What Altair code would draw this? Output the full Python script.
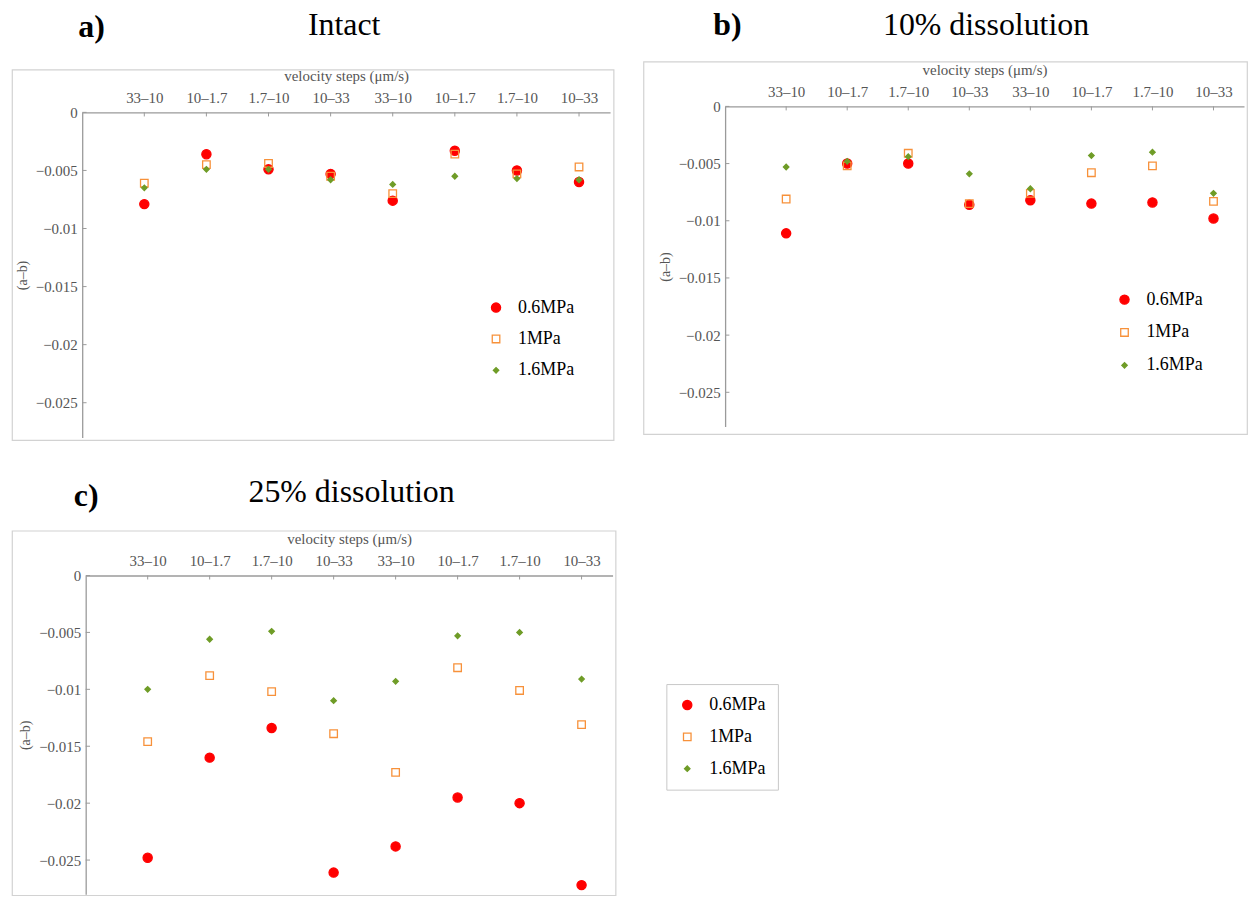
import altair as alt
import pandas as pd

# ---------------- data ----------------
categories = ["33–10", "10–1.7", "1.7–10", "10–33", "33–10", "10–1.7", "1.7–10", "10–33"]
pressures = ["0.6MPa", "1MPa", "1.6MPa"]

intact_06 = [-0.0079, -0.0036, -0.0049, -0.0053, -0.0076, -0.0033, -0.0050, -0.0060]
intact_10 = [-0.0061, -0.0045, -0.0044, -0.0055, -0.0070, -0.0036, -0.0053, -0.0047]
intact_16 = [-0.0065, -0.0049, -0.0049, -0.0058, -0.0062, -0.0055, -0.0057, -0.0058]

d10_06 = [-0.0111, -0.0050, -0.0050, -0.0086, -0.0082, -0.0085, -0.0084, -0.0098]
d10_10 = [-0.0081, -0.0052, -0.0041, -0.0085, -0.0076, -0.0058, -0.0052, -0.0083]
d10_16 = [-0.0053, -0.0048, -0.0044, -0.0059, -0.0072, -0.0043, -0.0040, -0.0076]

d25_06 = [-0.0248, -0.0160, -0.0134, -0.0261, -0.0238, -0.0195, -0.0200, -0.0272]
d25_10 = [-0.0146, -0.0088, -0.0102, -0.0139, -0.0173, -0.0081, -0.0101, -0.0131]
d25_16 = [-0.0100, -0.0056, -0.0049, -0.0110, -0.0093, -0.0053, -0.0050, -0.0091]

y_ticks = [0, -0.005, -0.01, -0.015, -0.02, -0.025]
x_positions = [1, 2, 3, 4, 5, 6, 7, 8]

# ---------------- style ----------------
SERIF = "Liberation Serif"
AXIS_COLOR = "#9a9a9a"
LABEL_COLOR = "#555555"
FRAME_COLOR = "#d2d2d2"
colors = ["#ff0000", "#f7913a", "#6f9c27"]
fills = ["#ff0000", "transparent", "#6f9c27"]
shapes = ["circle", "square", "diamond"]
sizes = [85, 30, 75]

label_expr = "[" + ",".join("'%s'" % c for c in categories) + "][datum.value - 1]"
one = alt.Data(values=[{"k": 1}])


def make_df(series):
    rows = []
    for p, vals in zip(pressures, series):
        for i, v in enumerate(vals):
            rows.append({"idx": i + 1, "val": v, "pressure": p})
    return pd.DataFrame(rows)


def panel(series, letter, name, geo, legend_geo, legend_box=False, row_pad=13.5):
    vw, vh, lo, to, pw, ph = geo
    xs = alt.Scale(domain=[0, 8.5], range=[lo, lo + pw], nice=False, zero=False)
    ys = alt.Scale(domain=[-0.028, 0], range=[to + ph, to], nice=False, zero=False)
    xaxis = alt.Axis(orient="top", offset=-to, values=x_positions, labelExpr=label_expr,
                     title="velocity steps (μm/s)", ticks=False, grid=False,
                     domainColor=AXIS_COLOR, domainWidth=1.3,
                     labelFont=SERIF, labelFontSize=15, labelColor=LABEL_COLOR, labelPadding=7,
                     titleFont=SERIF, titleFontSize=15, titleFontWeight="normal",
                     titleColor=LABEL_COLOR, titlePadding=7, labelFlush=False, labelOverlap=False)
    yaxis = alt.Axis(orient="left", offset=-lo, values=y_ticks, format=".3~f",
                     title="(a–b)", ticks=False, grid=False,
                     domainColor=AXIS_COLOR, domainWidth=1.3,
                     labelFont=SERIF, labelFontSize=15, labelColor=LABEL_COLOR, labelPadding=5,
                     titleFont=SERIF, titleFontSize=14, titleFontWeight="normal",
                     titleColor=LABEL_COLOR, titlePadding=6, labelFlush=False, labelOverlap=False)

    def X(field):
        return alt.X(field, type="quantitative", scale=xs, axis=xaxis)

    def Y(field):
        return alt.Y(field, type="quantitative", scale=ys, axis=yaxis)

    lx, ly = legend_geo
    leg_kwargs = dict(orient="none", legendX=lx, legendY=ly, title=None,
                      labelFont=SERIF, labelFontSize=18, labelColor="black",
                      labelOffset=13, rowPadding=row_pad, symbolStrokeWidth=1.3)
    if legend_box:
        leg_kwargs.update(strokeColor="#c8c8c8", padding=12, fillColor="white")
    else:
        leg_kwargs.update(padding=0)

    def leg():
        return alt.Legend(**leg_kwargs)

    sort = pressures
    df = make_df(series)
    pts = alt.Chart(df).mark_point(filled=False, opacity=1, strokeWidth=1.3).encode(
        x=X("idx"), y=Y("val"),
        shape=alt.Shape("pressure:N", sort=sort, scale=alt.Scale(domain=pressures, range=shapes), legend=leg()),
        stroke=alt.Stroke("pressure:N", sort=sort, scale=alt.Scale(domain=pressures, range=colors), legend=leg()),
        fill=alt.Fill("pressure:N", sort=sort, scale=alt.Scale(domain=pressures, range=fills), legend=leg()),
        size=alt.Size("pressure:N", sort=sort, scale=alt.Scale(domain=pressures, range=sizes), legend=leg()),
    )

    xt_df = pd.DataFrame({"idx": x_positions, "y0": [0.0] * 8, "y1": [-0.00035] * 8})
    xticks = alt.Chart(xt_df).mark_rule(color=AXIS_COLOR, strokeWidth=1).encode(
        x=X("idx"), y=Y("y0"), y2="y1")
    yt_df = pd.DataFrame({"val": y_ticks, "x0": [0.0] * 6, "x1": [0.07] * 6})
    yticks = alt.Chart(yt_df).mark_rule(color=AXIS_COLOR, strokeWidth=1).encode(
        y=Y("val"), x=X("x0"), x2="x1")

    lt = letter
    t1 = alt.Chart(one).mark_text(font=SERIF, fontSize=32, fontWeight="bold", align="left",
                                  baseline="alphabetic", color="black").encode(
        x=alt.value(lt[1]), y=alt.value(lt[2]), text=alt.value(lt[0]))
    t2 = alt.Chart(one).mark_text(font=SERIF, fontSize=32, align="center",
                                  baseline="alphabetic", color="black").encode(
        x=alt.value(name[1]), y=alt.value(name[2]), text=alt.value(name[0]))
    return alt.layer(xticks, yticks, pts, t1, t2).properties(width=vw, height=vh)


def spacer():
    return alt.Chart(one).mark_point(opacity=0, size=1, strokeWidth=0).encode(
        x=alt.value(0.5), y=alt.value(0.5)).properties(
        width=1, height=1, view=alt.ViewBackground(stroke=None))


A = panel([intact_06, intact_10, intact_16], ("a)", 66.5, -33), ("Intact", 333.5, -35),
          (604, 372, 70.5, 43, 530, 326.5), (477, 230), row_pad=13.5)
B = panel([d10_06, d10_10, d10_16], ("b)", 70, -27), ("10% dissolution", 344, -27),
          (606, 374, 82, 45, 521, 321.5), (474, 230), row_pad=15)
C = panel([d25_06, d25_10, d25_16], ("c)", 62, -25), ("25% dissolution", 341, -29),
          (606, 366, 74, 45, 529, 320), (657, 154), legend_box=True, row_pad=14)

res = dict(x="independent", y="independent", shape="independent", stroke="independent",
           fill="independent", size="independent")
leg_res = dict(shape="independent", stroke="independent", fill="independent", size="independent")

colA = alt.vconcat(spacer(), A, spacing=0).resolve_scale(**res).resolve_legend(**leg_res)
colB = alt.vconcat(spacer(), B, spacing=0).resolve_scale(**res).resolve_legend(**leg_res)
top = alt.hconcat(colA, colB, spacing=28).resolve_scale(**res).resolve_legend(**leg_res)

chart = alt.vconcat(top, C, spacing=34).resolve_scale(**res).resolve_legend(**leg_res).properties(
    padding={"left": 3, "top": -3, "right": 0, "bottom": 0}, background="white"
).configure_view(stroke=FRAME_COLOR, strokeWidth=1.2)

chart.save("out.html", embed_options={"renderer": "svg", "actions": False})
